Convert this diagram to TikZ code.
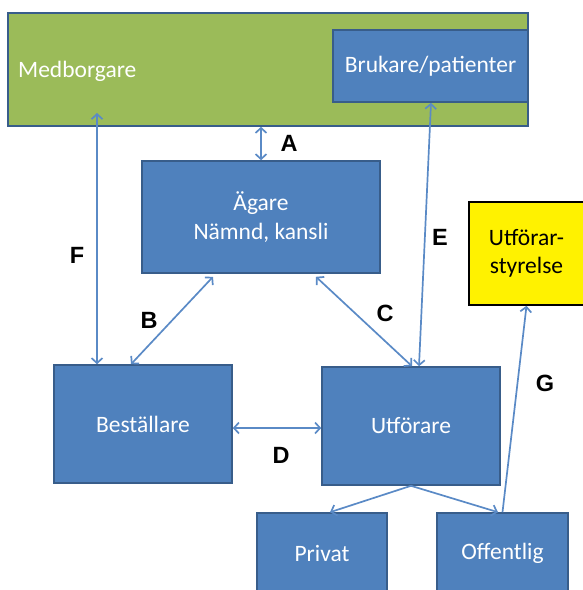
\documentclass[tikz,border=0pt]{standalone}
\usepackage{fontspec}
\setmainfont{Carlito}
\newfontfamily\lblfont{Liberation Sans}
\usetikzlibrary{arrows.meta,calc}
\definecolor{obl}{HTML}{4F81BD}
\definecolor{obld}{HTML}{385D8A}
\definecolor{ogr}{HTML}{9BBB59}
\definecolor{arr}{HTML}{5A8AC6}
\tikzset{
  bfont/.style={font=\fontsize{23.5}{28}\selectfont},
  bluebox/.style={draw=obld, line width=1.6pt, fill=obl, text=white, align=center, bfont, inner sep=0pt},
  conn/.style={draw=arr, line width=1.7pt, arrows={Straight Barb[length=5pt,width=11pt,line width=1.7pt]-Straight Barb[length=5pt,width=11pt,line width=1.7pt]}},
  oneway/.style={draw=arr, line width=1.7pt, arrows={-Straight Barb[length=5pt,width=11pt,line width=1.7pt]}},
  lbl/.style={font=\lblfont\bfseries\fontsize{23.5}{26}\selectfont, text=black}
}
\begin{document}
\begin{tikzpicture}[x=1pt,y=-1pt]
\useasboundingbox (0,0) rectangle (582,590);
\node[draw=obld, line width=1.6pt, fill=ogr, minimum width=520pt, minimum height=113pt, inner sep=0pt] (green) at (268,69.5) {};
\node[text=white, bfont, anchor=west, inner sep=0pt] (medb) at (18,71) {Medborgare};
\node[bluebox, minimum width=195pt, minimum height=72pt] (bruk) at (430.5,66) {Brukare/patienter};
\node[bluebox, minimum width=238pt, minimum height=112pt] (agare) at (261,217) {Ägare\\[1pt]Nämnd, kansli};
\node[bluebox, minimum width=178pt, minimum height=118pt] (best) at (143,424) {Beställare};
\node[bluebox, minimum width=178pt, minimum height=118pt] (utf) at (411,426) {Utförare};
\node[draw=black, line width=1.6pt, fill=yellow, minimum width=115pt, minimum height=103pt, align=center, inner sep=0pt, bfont] (styr) at (526.5,253.5) {Utförar-\\styrelse};
\node[bluebox, minimum width=130pt, minimum height=80pt] (privat) at (322,553) {Privat};
\node[bluebox, minimum width=131pt, minimum height=80pt] (offent) at (502.5,553) {Offentlig};
\coordinate (ftop) at (97,113);
\draw[conn] (ftop) -- (ftop |- best.north);
\draw[conn] (agare.north) -- (agare.north |- green.south);
\draw[conn] ($(bruk.south)+(0.5,0)$) -- ($(utf.north)+(8,0)$);
\draw[conn] ($(agare.south)+(-48,3)$) -- ($(best.north)+(-12,0)$);
\draw[conn] ($(agare.south)+(55,3)$) -- ($(utf.north)+(1,0)$);
\draw[conn] (best.east |- 0,428) -- (utf.west |- 0,428);
\draw[oneway] (utf.south) -- ($(privat.north)+(8,0)$);
\draw[oneway] (utf.south) -- ($(offent.north)+(-4.5,0)$);
\draw[oneway] (offent.north) -- (styr.south);
\node[lbl] (la) at (289,143) {A};
\node[lbl] (lb) at (149,320) {B};
\node[lbl] (lc) at (385,313) {C};
\node[lbl] (ld) at (281,455) {D};
\node[lbl] (le) at (440,237) {E};
\node[lbl] (lf) at (77,255) {F};
\node[lbl] (lg) at (545,383) {G};
\end{tikzpicture}
\end{document}
